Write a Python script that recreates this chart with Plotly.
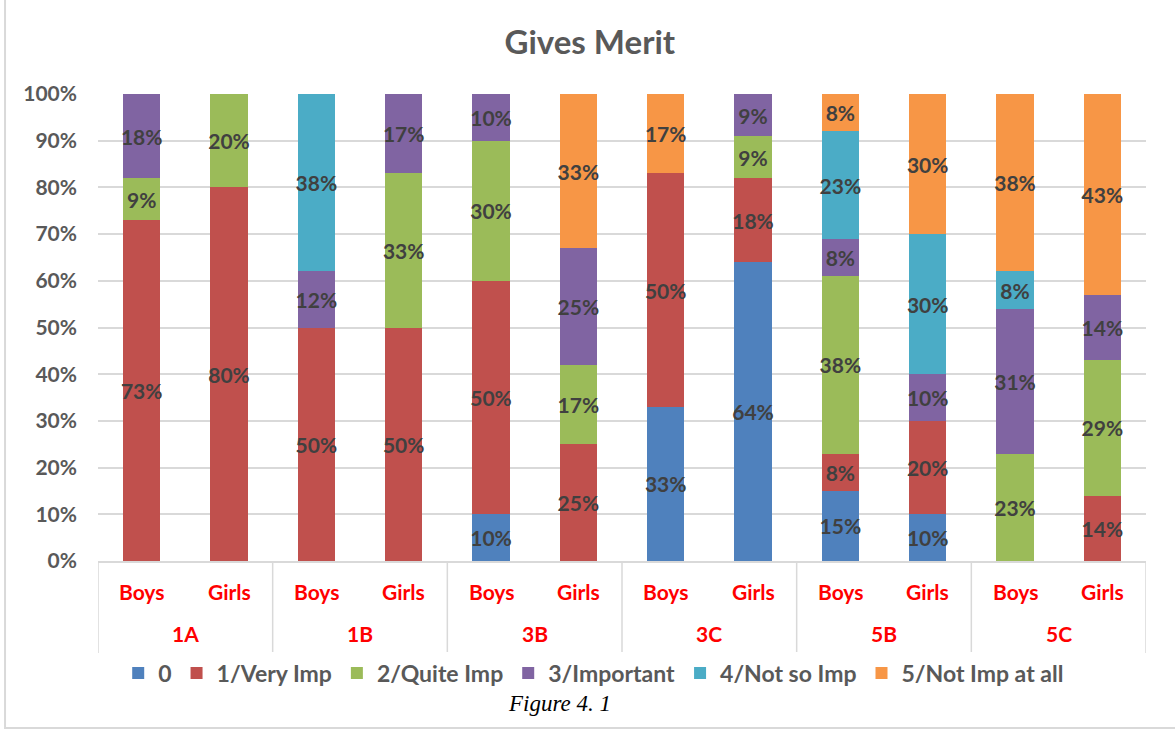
import plotly.graph_objects as go

group_names = ["1A", "1B", "3B", "3C", "5B", "5C"]
genders = ["Boys", "Girls"]
categories = [f"{g} {s}" for g in group_names for s in genders]

series_names = ["0", "1/Very Imp", "2/Quite Imp", "3/Important", "4/Not so Imp", "5/Not Imp at all"]
s0 = [0, 0, 0, 0, 10, 0, 33, 64, 15, 10, 0, 0]
s1 = [73, 80, 50, 50, 50, 25, 50, 18, 8, 20, 0, 14]
s2 = [9, 20, 0, 33, 30, 17, 0, 9, 38, 0, 23, 29]
s3 = [18, 0, 12, 17, 10, 25, 0, 9, 8, 10, 31, 14]
s4 = [0, 0, 38, 0, 0, 0, 0, 0, 23, 30, 8, 0]
s5 = [0, 0, 0, 0, 0, 33, 17, 0, 8, 30, 38, 43]
series_values = [s0, s1, s2, s3, s4, s5]
colors = ["#4F81BD", "#C0504D", "#9BBB59", "#8064A2", "#4BACC6", "#F79646"]
y_ticks = [0, 10, 20, 30, 40, 50, 60, 70, 80, 90, 100]

FONT = "Lato"
fig = go.Figure()
for name, vals, col in zip(series_names, series_values, colors):
    yv = [v / 100 if v else None for v in vals]
    txt = [f"{v}%" if v else "" for v in vals]
    fig.add_trace(go.Bar(
        x=categories, y=yv, name=name, marker_color=col,
        marker_line_width=0,
        text=txt, textposition="inside", insidetextanchor="middle",
        textangle=0, constraintext="none",
        textfont=dict(family=FONT, size=21, color="#404040", weight="bold"),
    ))

fig.update_layout(
    barmode="stack",
    bargap=0.575,
    width=1175, height=730,
    margin=dict(l=98, r=29, t=94, b=169, autoexpand=False),
    paper_bgcolor="white", plot_bgcolor="white",
    title=dict(text="<b>Gives Merit</b>", x=0.502, xanchor="center", y=0.9425, yanchor="middle",
               font=dict(family=FONT, size=33, color="#595959")),
    legend=dict(orientation="h", x=0.473, xanchor="center", y=-0.240, yanchor="middle",
                font=dict(family=FONT, size=23, color="#595959", weight="bold"),
                itemwidth=30, traceorder="normal"),
    showlegend=True,
)
fig.update_yaxes(
    range=[0, 1], tickvals=[t / 100 for t in y_ticks], ticktext=[f"{t}%" for t in y_ticks],
    showgrid=True, gridcolor="#D9D9D9", gridwidth=1.5, zeroline=False,
    tickfont=dict(family=FONT, size=21, color="#595959", weight="bold"),
    ticks="", ticklabelstandoff=20, automargin=False,
)
fig.update_xaxes(
    type="category", range=[-0.5, len(categories) - 0.5],
    showline=True, linecolor="#D9D9D9", linewidth=1.5,
    showticklabels=False, showgrid=False, automargin=False,
)

# category labels (two levels)
for i, c in enumerate(categories):
    fig.add_annotation(text=f"<b>{genders[i % 2]}</b>", x=c, xref="x", y=-0.066, yref="paper",
                       showarrow=False, xanchor="center", yanchor="middle",
                       font=dict(family=FONT, size=21, color="#FF0000"))
for j, g in enumerate(group_names):
    fig.add_annotation(text=f"<b>{g}</b>", x=2 * j + 0.5, xref="x", y=-0.156, yref="paper",
                       showarrow=False, xanchor="center", yanchor="middle",
                       font=dict(family=FONT, size=21, color="#FF0000"))
for k in range(len(group_names) + 1):
    fig.add_shape(type="line", xref="x", yref="paper", x0=2 * k - 0.5, x1=2 * k - 0.5,
                  y0=0, y1=-0.197, line=dict(color="#D9D9D9", width=1.5))

fig.add_annotation(text="<i>Figure 4. 1</i>", xref="paper", yref="paper",
                   x=0.44, y=-0.305, xanchor="center", yanchor="middle", showarrow=False,
                   font=dict(family="Liberation Serif", size=23, color="black"))
# outer chart border
fig.add_shape(type="rect", xref="paper", yref="paper",
              x0=-0.0887, x1=1.06, y0=-0.3576, y1=1.25,
              line=dict(color="#D9D9D9", width=2), fillcolor="rgba(0,0,0,0)", layer="below")

fig.write_html("out.html", config={"displayModeBar": False},
               post_script="document.body.style.margin='0px';")
